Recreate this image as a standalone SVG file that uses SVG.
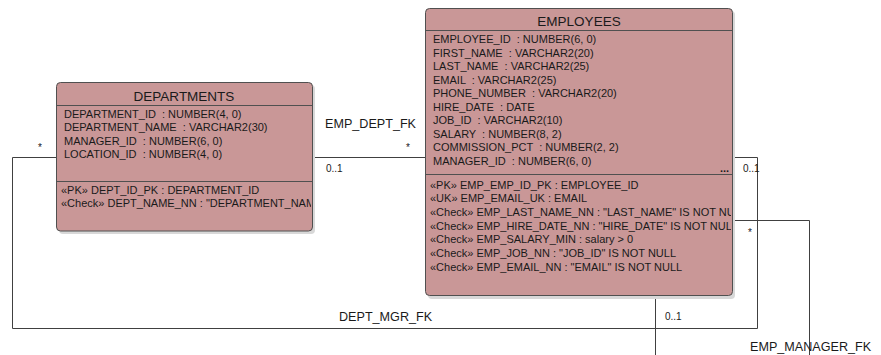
<svg xmlns="http://www.w3.org/2000/svg" width="881" height="355" viewBox="0 0 881 355">
<style>
.box{fill:#C99797;stroke:#505050;stroke-width:1}
.shadow{fill:#d8d8d8}
.sep{stroke:#505050;stroke-width:1}
.title{font-family:"Liberation Sans",Arial,sans-serif;font-size:13.5px;fill:#1a1a1a;text-anchor:middle}
.attr{font-family:"Liberation Sans",Arial,sans-serif;font-size:11px;fill:#1a1a1a;white-space:pre}
.lbl{font-family:"Liberation Sans",Arial,sans-serif;font-size:12.6px;fill:#1a1a1a}
.mult{font-family:"Liberation Sans",Arial,sans-serif;font-size:10px;fill:#1a1a1a}
.conn{fill:none;stroke:#404040;stroke-width:1}
</style>
<defs>
<clipPath id="clipDept"><rect x="57" y="83" width="254" height="148"/></clipPath>
<clipPath id="clipEmp"><rect x="426" y="9" width="305" height="287"/></clipPath>
</defs>
<rect width="881" height="355" fill="#ffffff"/>
<g id="connectors">
<path class="conn" d="M313,157.5 H425"/>
<path class="conn" d="M57,157.5 H12.5 V328.5 H757.5 V157.5 H733"/>
<path class="conn" d="M733,220.5 H809.5 V355"/>
<path class="conn" d="M655.5,296 V355"/>
<text class="lbl" x="325" y="128">EMP_DEPT_FK</text>
<text class="mult" x="326" y="172">0..1</text>
<text class="mult" x="406" y="151">*</text>
<text class="mult" x="38" y="151">*</text>
<text class="lbl" x="339" y="321">DEPT_MGR_FK</text>
<text class="mult" x="743" y="172">0..1</text>
<text class="mult" x="748" y="236">*</text>
<text class="mult" x="665" y="320">0..1</text>
<text class="lbl" x="750" y="351">EMP_MANAGER_FK</text>
</g>
<g id="departments">
<rect class="shadow" x="59" y="85" width="256" height="149" rx="4"/>
<rect class="box" x="56.5" y="82.5" width="256" height="148.5" rx="4"/>
<line class="sep" x1="57" y1="105.5" x2="312" y2="105.5"/>
<line class="sep" x1="57" y1="181.5" x2="312" y2="181.5"/>
<text class="title" x="184" y="101">DEPARTMENTS</text>
<g clip-path="url(#clipDept)">
<text class="attr" x="64" y="117.5" xml:space="preserve">DEPARTMENT_ID  : NUMBER(4, 0)</text>
<text class="attr" x="64" y="131" xml:space="preserve">DEPARTMENT_NAME  : VARCHAR2(30)</text>
<text class="attr" x="64" y="144.5" xml:space="preserve">MANAGER_ID  : NUMBER(6, 0)</text>
<text class="attr" x="64" y="158" xml:space="preserve">LOCATION_ID  : NUMBER(4, 0)</text>
<text class="attr" x="61" y="194">«PK» DEPT_ID_PK : DEPARTMENT_ID</text>
<text class="attr" x="61" y="207">«Check» DEPT_NAME_NN : "DEPARTMENT_NAME" IS NOT NULL</text>
</g>
</g>
<g id="employees">
<rect class="shadow" x="428" y="11" width="307" height="288" rx="4"/>
<rect class="box" x="425.5" y="8.5" width="307" height="287" rx="4"/>
<line class="sep" x1="426" y1="30.5" x2="732" y2="30.5"/>
<line class="sep" x1="426" y1="174.5" x2="732" y2="174.5"/>
<text class="title" x="579" y="26">EMPLOYEES</text>
<g clip-path="url(#clipEmp)">
<text class="attr" x="433" y="43.3" xml:space="preserve">EMPLOYEE_ID  : NUMBER(6, 0)</text>
<text class="attr" x="433" y="56.8" xml:space="preserve">FIRST_NAME  : VARCHAR2(20)</text>
<text class="attr" x="433" y="70.3" xml:space="preserve">LAST_NAME  : VARCHAR2(25)</text>
<text class="attr" x="433" y="83.8" xml:space="preserve">EMAIL  : VARCHAR2(25)</text>
<text class="attr" x="433" y="97.3" xml:space="preserve">PHONE_NUMBER  : VARCHAR2(20)</text>
<text class="attr" x="433" y="110.8" xml:space="preserve">HIRE_DATE  : DATE</text>
<text class="attr" x="433" y="124.3" xml:space="preserve">JOB_ID  : VARCHAR2(10)</text>
<text class="attr" x="433" y="137.8" xml:space="preserve">SALARY  : NUMBER(8, 2)</text>
<text class="attr" x="433" y="151.3" xml:space="preserve">COMMISSION_PCT  : NUMBER(2, 2)</text>
<text class="attr" x="433" y="164.8" xml:space="preserve">MANAGER_ID  : NUMBER(6, 0)</text>
<text class="attr" x="720" y="172" font-weight="bold">...</text>
<text class="attr" x="430" y="188.5">«PK» EMP_EMP_ID_PK : EMPLOYEE_ID</text>
<text class="attr" x="430" y="202.2">«UK» EMP_EMAIL_UK : EMAIL</text>
<text class="attr" x="430" y="215.9">«Check» EMP_LAST_NAME_NN : "LAST_NAME" IS NOT NULL</text>
<text class="attr" x="430" y="229.6">«Check» EMP_HIRE_DATE_NN : "HIRE_DATE" IS NOT NULL</text>
<text class="attr" x="430" y="243.3">«Check» EMP_SALARY_MIN : salary &gt; 0</text>
<text class="attr" x="430" y="257">«Check» EMP_JOB_NN : "JOB_ID" IS NOT NULL</text>
<text class="attr" x="430" y="270.7">«Check» EMP_EMAIL_NN : "EMAIL" IS NOT NULL</text>
</g>
</g>
</svg>
